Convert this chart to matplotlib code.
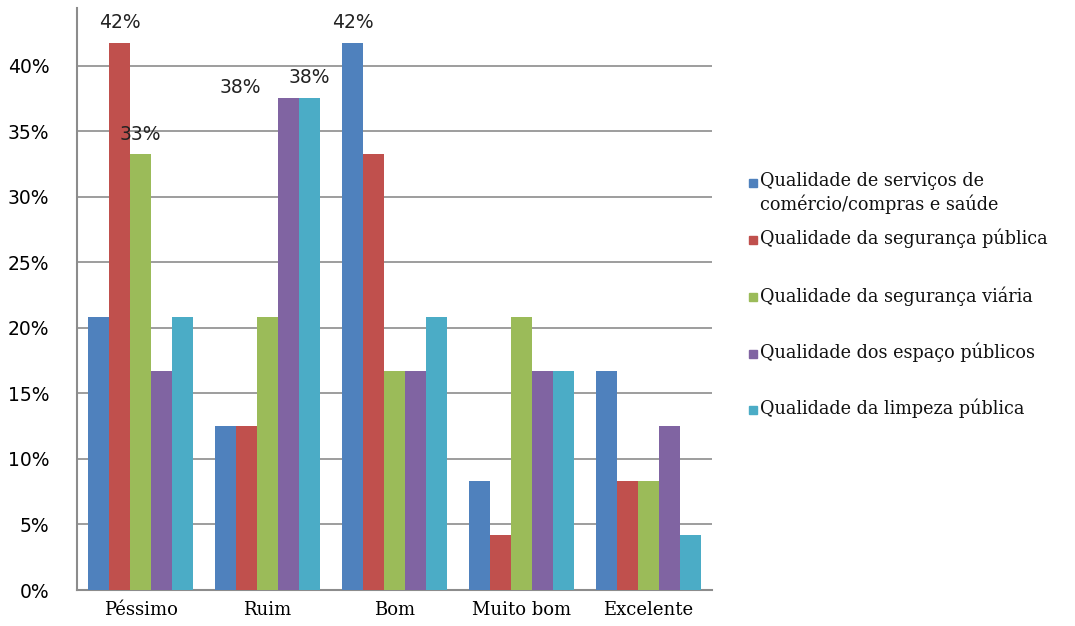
import matplotlib.pyplot as plt
import numpy as np
from matplotlib.patches import Rectangle
from matplotlib.ticker import FuncFormatter

categories = ["Péssimo", "Ruim", "Bom", "Muito bom", "Excelente"]
series_names = [
    "Qualidade de serviços de\ncomércio/compras e saúde",
    "Qualidade da segurança pública",
    "Qualidade da segurança viária",
    "Qualidade dos espaço públicos",
    "Qualidade da limpeza pública",
]
servicos = [20.8, 12.5, 41.7, 8.3, 16.7]
seguranca = [41.7, 12.5, 33.3, 4.2, 8.3]
viaria = [33.3, 20.8, 16.7, 20.8, 8.3]
espacos = [16.7, 37.5, 16.7, 16.7, 12.5]
limpeza = [20.8, 37.5, 20.8, 16.7, 4.2]
colors = ["#4F81BD", "#C0504D", "#9BBB59", "#8064A2", "#4BACC6"]

# rótulos de dados visíveis: (série, categoria, dx px, dy px)
data_labels = [(1, 0, 0, 11), (2, 0, 0, 10), (3, 1, -48, 1), (4, 1, 0, 11), (0, 2, 0, 11)]

serif = "DejaVu Serif"
W, H = 1075, 626

fig = plt.figure(figsize=(W / 100, H / 100), dpi=100)
ax = fig.add_axes([77 / W, 36 / H, 635 / W, 582 / H])

values = [servicos, seguranca, viaria, espacos, limpeza]
x = np.arange(len(categories))
w = 0.164
bars = []
for i, (vals, name, c) in enumerate(zip(values, series_names, colors)):
    b = ax.bar(x + (i - 2) * w, vals, w, color=c, label=name, zorder=3)
    bars.append(b)

for s, k, dx, dy in data_labels:
    rect = bars[s][k]
    ax.annotate("%d%%" % round(values[s][k]),
                (rect.get_x() + rect.get_width() / 2, rect.get_height()),
                xytext=(dx * 0.72, dy * 0.72), textcoords="offset points",
                ha="center", va="bottom", fontsize=13.5, family="DejaVu Sans",
                color="#222222")

ax.set_xlim(-0.5, 4.5)
ax.set_ylim(0, 44.4)
ax.set_yticks(np.arange(0, 45, 5))
ax.yaxis.set_major_formatter(FuncFormatter(lambda v, p: "%d%%" % v))
ax.grid(axis="y", color="#8c8c8c", linewidth=1.2, zorder=0)
ax.set_xticks(x)
ax.set_xticklabels(categories, family=serif, fontsize=13)
ax.tick_params(axis="x", length=0, pad=8)
ax.tick_params(axis="y", length=0, pad=20, labelsize=13.5)
for lab in ax.get_yticklabels():
    lab.set_family("DejaVu Sans")
for sp in ["top", "right"]:
    ax.spines[sp].set_visible(False)
for sp in ["left", "bottom"]:
    ax.spines[sp].set_color("#8c8c8c")
    ax.spines[sp].set_linewidth(1.5)

# legenda desenhada à mão para reproduzir o espaçamento irregular
leg_y = [183, 240, 297, 354, 410]
for name, c, yy in zip(series_names, colors, leg_y):
    fig.patches.append(Rectangle(((749) / W, 1 - (yy + 4) / H), 8 / W, 8 / H,
                                 transform=fig.transFigure, color=c))
    fig.text(760 / W, 1 - (yy - 11) / H, name, family=serif, fontsize=12.7,
             va="top", ha="left", linespacing=1.3, color="#111111")

fig.savefig("out.png", dpi=100)
